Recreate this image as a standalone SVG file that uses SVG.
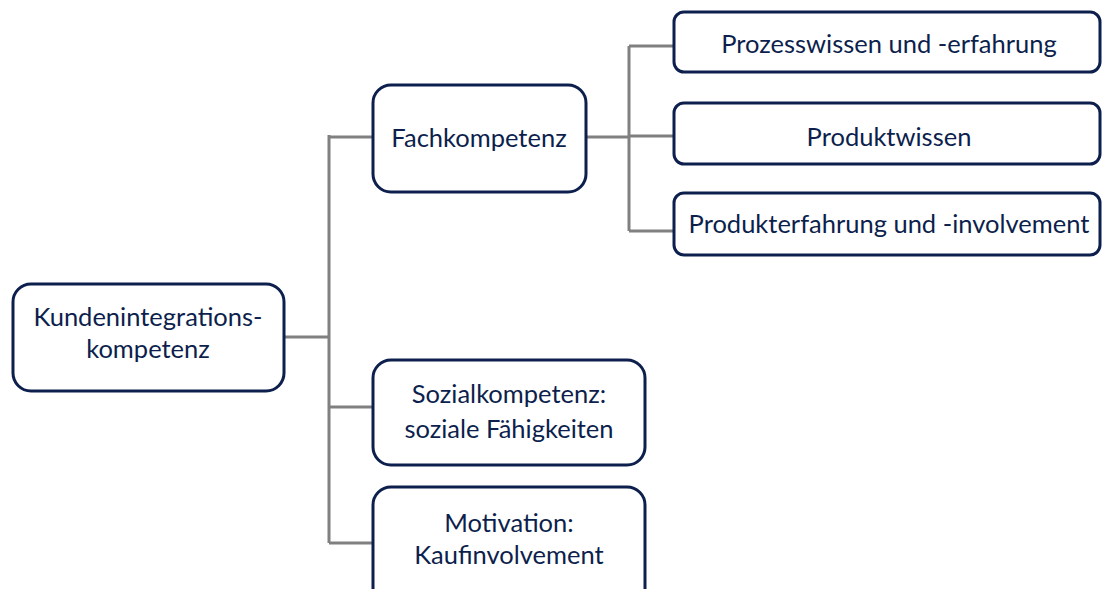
<svg xmlns="http://www.w3.org/2000/svg" width="1103" height="589" viewBox="0 0 1103 589">
<style>
.box{fill:#fff;stroke:#0d1f4d;stroke-width:3}
.t{font-family:Lato,"Open Sans",sans-serif;font-size:25.5px;fill:#0d1f4d;text-anchor:middle}
.c{fill:none;stroke:#808080;stroke-width:3}
</style>
<rect width="1103" height="589" fill="#fff"/>
<g id="connectors">
<path class="c" d="M284 337H329M329 135V543M329 137H373M329 407H373M329 543H373"/>
<path class="c" d="M586 137H629M629 46V231M629 46H674M629 136H674M629 231H674"/>
</g>
<g id="kik"><rect class="box" x="13" y="284" width="271" height="107" rx="18"/>
<text class="t" x="148" y="326">Kundenintegrations-</text><text class="t" x="148" y="358">kompetenz</text></g>
<g id="fach"><rect class="box" x="373" y="85" width="213" height="107" rx="18"/>
<text class="t" x="479" y="147">Fachkompetenz</text></g>
<g id="sozial"><rect class="box" x="373" y="360" width="272" height="105" rx="18"/>
<text class="t" x="509" y="403">Sozialkompetenz:</text><text class="t" x="509" y="438">soziale Fähigkeiten</text></g>
<g id="motiv"><rect class="box" x="373" y="487" width="272" height="120" rx="18"/>
<text class="t" x="509" y="532">Motivation:</text><text class="t" x="509" y="564">Kaufinvolvement</text></g>
<g id="prozess"><rect class="box" x="674" y="12" width="426" height="60" rx="10"/>
<text class="t" x="889" y="53">Prozesswissen und -erfahrung</text></g>
<g id="produkt"><rect class="box" x="674" y="103" width="426" height="61" rx="10"/>
<text class="t" x="889" y="146">Produktwissen</text></g>
<g id="erfahrung"><rect class="box" x="674" y="193" width="426" height="62" rx="10"/>
<text class="t" x="889" y="233">Produkterfahrung und -involvement</text></g>
</svg>
